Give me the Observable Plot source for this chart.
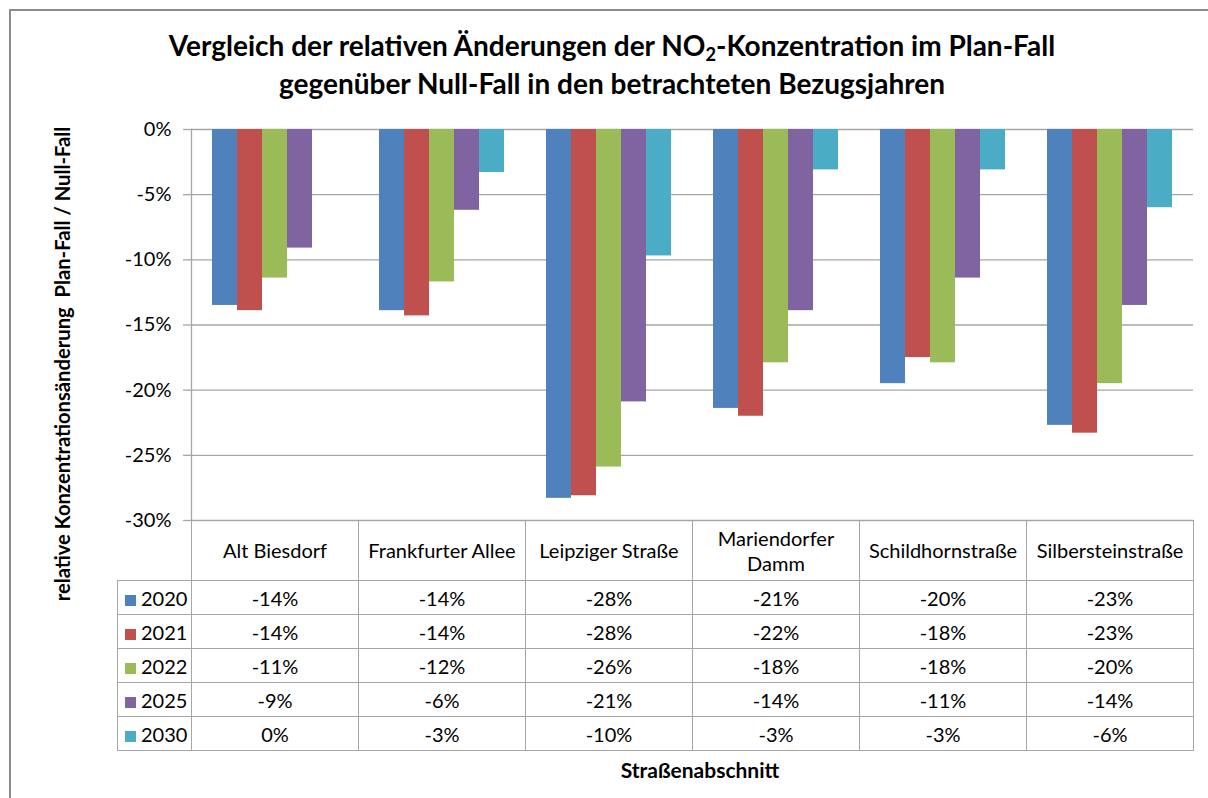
<!DOCTYPE html>
<html>
<head>
<meta charset="utf-8">
<script src="https://cdn.jsdelivr.net/npm/d3@7"></script>
<script src="https://cdn.jsdelivr.net/npm/@observablehq/plot@0.6"></script>
<style>
  html, body { margin: 0; padding: 0; background: #fff; }
  #chart { position: relative; width: 1208px; height: 798px; overflow: hidden; background: #fff; font-family: Lato, "Open Sans", sans-serif; color: #000; }
  #frame { position: absolute; left: 9px; top: 9px; width: 1400px; height: 1000px; border-left: 2px solid #8c8c8c; border-top: 2px solid #8c8c8c; }
  #title { position: absolute; left: 0; top: 26px; width: 1224px; text-align: center; font-weight: 700; font-size: 28px; line-height: 38px; }
  #title sub { font-size: 0.65em; vertical-align: -0.25em; line-height: 0; }
  #plot { position: absolute; left: 0; top: 0; }
  #ytitle { position: absolute; left: 62px; top: 364px; transform: translate(-50%, -50%) rotate(-90deg); white-space: pre; font-weight: 700; font-size: 20.2px; }
  #xtitle { position: absolute; left: 700px; top: 769px; transform: translate(-50%, -50%); white-space: nowrap; font-weight: 700; font-size: 21px; }
  #dt { position: absolute; left: 117px; top: 520px; border-collapse: collapse; table-layout: fixed; font-size: 20px; }
  #dt td { border: 1.3px solid #a6a6a6; text-align: center; padding: 0; vertical-align: middle; }
  #dt tr.head td { height: 59px; white-space: pre-line; line-height: 25px; }
  #dt tr.row td { height: 33px; }
  #dt td.blank { border: none; }
  #dt td.lab { text-align: left; padding-left: 7px; white-space: nowrap; }
  #dt .key { display: inline-block; width: 11px; height: 11px; margin-right: 5px; vertical-align: 0px; }
</style>
</head>
<body>
<div id="chart">
  <div id="frame"></div>
  <div id="title">Vergleich der relativen Änderungen der NO<sub>2</sub>-Konzentration im Plan-Fall<br>gegenüber Null-Fall in den betrachteten Bezugsjahren</div>
  <div id="plot"></div>
  <div id="ytitle">relative Konzentrationsänderung  Plan-Fall / Null-Fall</div>
  <table id="dt"></table>
  <div id="xtitle">Straßenabschnitt</div>
</div>
<script>
// ---- data ----
const categories = ["Alt Biesdorf", "Frankfurter Allee", "Leipziger Straße", "Mariendorfer Damm", "Schildhornstraße", "Silbersteinstraße"];
const headerLabels = ["Alt Biesdorf", "Frankfurter Allee", "Leipziger Straße", "Mariendorfer\nDamm", "Schildhornstraße", "Silbersteinstraße"];
const years = ["2020", "2021", "2022", "2025", "2030"];
const colors = ["#4F81BD", "#C0504D", "#9BBB59", "#8064A2", "#4BACC6"];
const v2020 = [-13.5, -13.9, -28.3, -21.4, -19.5, -22.7];
const v2021 = [-13.9, -14.3, -28.1, -22.0, -17.5, -23.3];
const v2022 = [-11.4, -11.7, -25.9, -17.9, -17.9, -19.5];
const v2025 = [-9.1, -6.2, -20.9, -13.9, -11.4, -13.5];
const v2030 = [0, -3.3, -9.7, -3.1, -3.1, -6.0];
const yTicks = [0, -5, -10, -15, -20, -25, -30];

const series = [v2020, v2021, v2022, v2025, v2030];
const data = years.flatMap((yr, i) => categories.map((c, j) => ({category: c, year: yr, value: series[i][j]})));
const fmt = v => (Math.round(Math.abs(v)) === 0 ? "" : (v < 0 ? "-" : "")) + Math.round(Math.abs(v)) + "%";

const gridColor = "#a6a6a6";

const chart = Plot.plot({
  width: 1208,
  height: 530,
  marginTop: 129,
  marginBottom: 10,
  marginLeft: 191,
  marginRight: 15,
  style: {fontFamily: "Lato, sans-serif", fontSize: "20px", color: "#000", background: "transparent", overflow: "visible"},
  fx: {domain: categories, padding: 0, axis: null, label: null},
  x: {domain: years, paddingInner: 0, paddingOuter: 0.775, axis: null, label: null},
  y: {domain: [-30, 0], label: null},
  color: {domain: years, range: colors},
  marks: [
    Plot.gridY(yTicks, {stroke: gridColor, strokeOpacity: 1, strokeWidth: 1.3}),
    Plot.barY(data, {fx: "category", x: "year", y1: 0, y2: "value", fill: "year"}),
    Plot.frame({anchor: "left", facetAnchor: "left", stroke: gridColor, strokeWidth: 1.3}),
    Plot.axisY(yTicks, {tickFormat: d => d + "%", tickSize: 8, tickPadding: 12, fontSize: 20, label: null, stroke: gridColor, fill: "#000", strokeWidth: 1.3})
  ]
});
document.getElementById("plot").appendChild(chart);

// ---- data table ----
const table = d3.select("#dt");
const cg = table.append("colgroup");
cg.append("col").style("width", "74px");
categories.forEach(() => cg.append("col").style("width", "167px"));
const head = table.append("tr").attr("class", "head");
head.append("td").attr("class", "blank");
headerLabels.forEach(l => head.append("td").text(l));
years.forEach((yr, i) => {
  const tr = table.append("tr").attr("class", "row");
  const lab = tr.append("td").attr("class", "lab");
  lab.append("span").attr("class", "key").style("background", colors[i]);
  lab.append("span").text(yr);
  series[i].forEach(v => tr.append("td").text(fmt(v)));
});
</script>
</body>
</html>
